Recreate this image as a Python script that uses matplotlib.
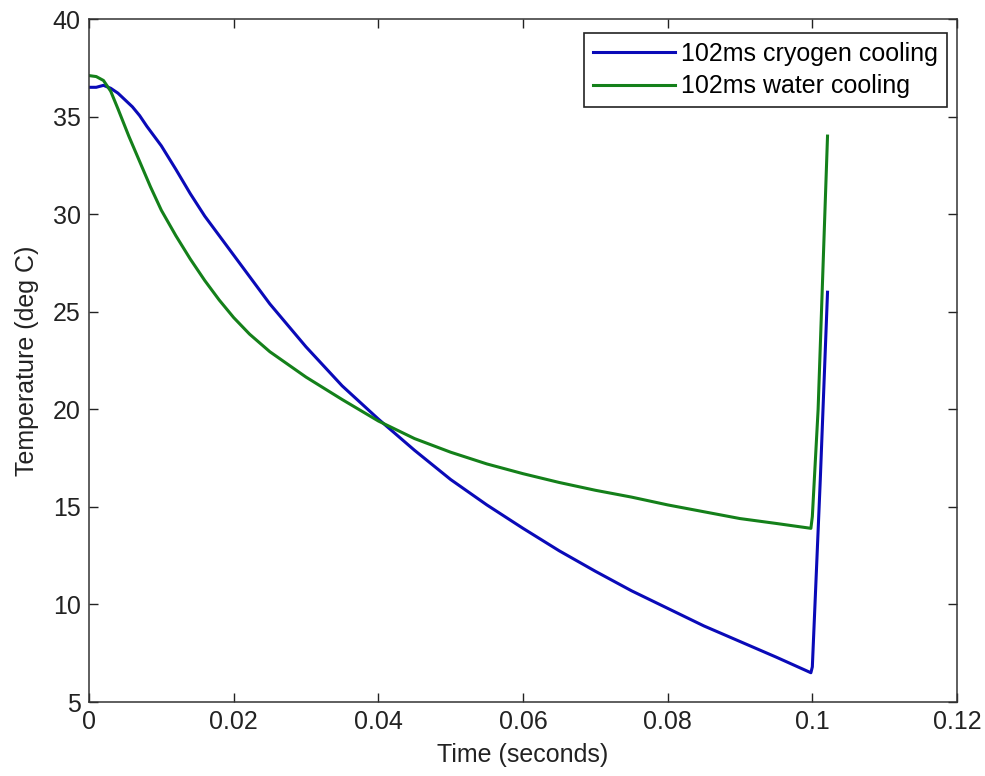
import numpy as np
import matplotlib
matplotlib.use("Agg")
from matplotlib import pyplot as plt

# values
cryo_t = [0.0, 0.001, 0.002, 0.003, 0.004, 0.005, 0.006, 0.007, 0.008, 0.009,
          0.01, 0.012, 0.014, 0.016, 0.018, 0.02, 0.025, 0.03, 0.035, 0.04,
          0.045, 0.05, 0.055, 0.06, 0.065, 0.07, 0.075, 0.08, 0.085, 0.09,
          0.095, 0.0998, 0.1000, 0.1011, 0.1021]
cryo_T = [36.5, 36.5, 36.6, 36.45, 36.2, 35.85, 35.5, 35.05, 34.5, 34.0,
          33.5, 32.3, 31.05, 29.9, 28.9, 27.9, 25.4, 23.2, 21.2, 19.5,
          17.9, 16.4, 15.1, 13.9, 12.75, 11.7, 10.7, 9.8, 8.9, 8.1,
          7.3, 6.5, 6.8, 16.4, 26.0]

water_t = [0.0, 0.001, 0.002, 0.003, 0.004, 0.0055, 0.007, 0.0085, 0.01, 0.012,
           0.014, 0.016, 0.018, 0.02, 0.0222, 0.025, 0.03, 0.035, 0.04, 0.045,
           0.05, 0.055, 0.06, 0.065, 0.07, 0.075, 0.08, 0.085, 0.09, 0.095,
           0.0998, 0.1000, 0.1008, 0.1021]
water_T = [37.1, 37.05, 36.85, 36.3, 35.4, 34.0, 32.7, 31.4, 30.2, 28.9,
           27.7, 26.6, 25.6, 24.7, 23.85, 22.95, 21.65, 20.5, 19.4, 18.5,
           17.8, 17.2, 16.7, 16.25, 15.85, 15.5, 15.1, 14.75, 14.4, 14.15,
           13.9, 14.5, 20.0, 34.0]

labels = ["102ms cryogen cooling", "102ms water cooling"]
xticks = [0, 0.02, 0.04, 0.06, 0.08, 0.1, 0.12]
xticklabels = ["0", "0.02", "0.04", "0.06", "0.08", "0.1", "0.12"]
yticks = [5, 10, 15, 20, 25, 30, 35, 40]

plt.rcParams["font.family"] = ["Liberation Sans", "DejaVu Sans"]
plt.rcParams["font.size"] = 18

fig = plt.figure(figsize=(9.85, 7.76), dpi=100)
ax = fig.add_axes([89 / 985, 1 - 702 / 776, (957 - 89) / 985, (702 - 19) / 776])

ax.plot(cryo_t, cryo_T, color="#0a0ab8", linewidth=2.2, label=labels[0],
        solid_joinstyle="round")
ax.plot(water_t, water_T, color="#14801a", linewidth=2.2, label=labels[1],
        solid_joinstyle="round")

ax.set_xlim(0, 0.12)
ax.set_ylim(5, 40)
ax.set_xticks(xticks)
ax.set_xticklabels(xticklabels)
ax.set_yticks(yticks)
ax.tick_params(direction="in", length=6.5, width=1, top=True, right=True,
               labelsize=18, colors="#222222", pad=6)
for s in ax.spines.values():
    s.set_linewidth(1.1)
    s.set_color("#333333")

ax.set_xlabel("Time (seconds)", fontsize=18, color="#222222", labelpad=6)
ax.set_ylabel("Temperature (deg C)", fontsize=18, color="#222222", labelpad=10)

leg = ax.legend(loc="upper right", bbox_to_anchor=(947 / 985, 1 - 33 / 776),
                bbox_transform=fig.transFigure, fancybox=False, framealpha=1,
                edgecolor="#222222", handlelength=3.3, handletextpad=0.25,
                borderpad=0.35, labelspacing=0.35, borderaxespad=0, fontsize=18)
leg.get_frame().set_linewidth(1.2)

fig.savefig("out.png", dpi=100)
